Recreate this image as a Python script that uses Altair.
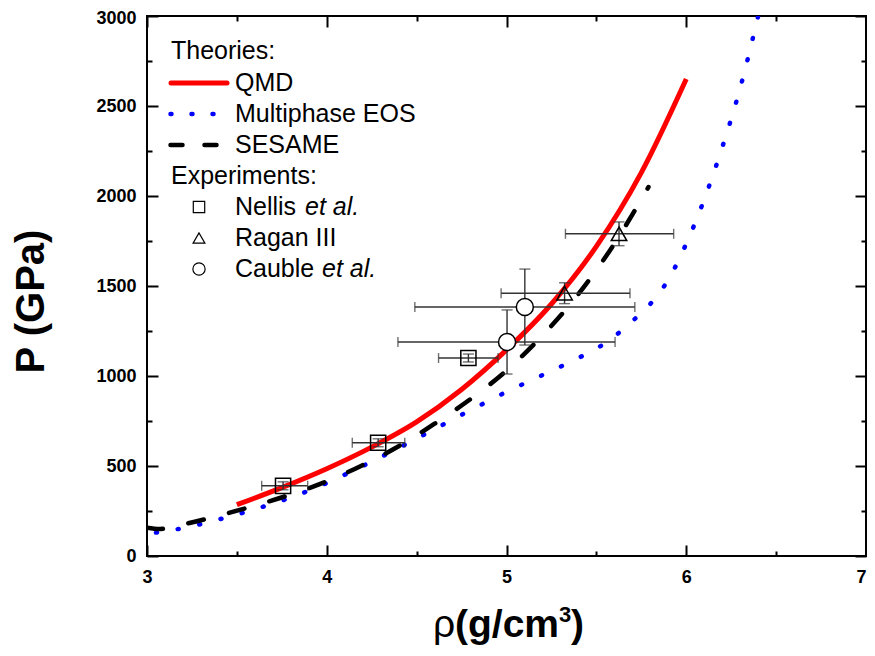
import altair as alt
import pandas as pd

# ---------------- data ----------------
# Theories
qmd_rho = [3.5, 3.75, 4.0, 4.25, 4.5, 4.75, 5.0, 5.25, 5.5, 5.75, 6.0]
qmd_p = [285, 380, 485, 605, 745, 925, 1145, 1400, 1720, 2130, 2650]

eos_rho = [3.05, 3.2, 3.4, 3.6, 3.8, 4.0, 4.2, 4.4, 4.6, 4.8, 5.0, 5.2, 5.4,
           5.5, 5.6, 5.7, 5.8, 5.9, 6.0, 6.1, 6.2, 6.3, 6.4]
eos_p = [130, 155, 203, 260, 325, 405, 500, 600, 705, 810, 912, 1005, 1100,
         1152, 1220, 1305, 1400, 1535, 1735, 1981, 2270, 2600, 3000]

ses_rho = [3.0, 3.07, 3.2, 3.4, 3.6, 3.8, 4.0, 4.2, 4.4, 4.6, 4.8, 5.0, 5.2,
           5.4, 5.6, 5.79]
ses_p = [157, 150, 175, 225, 280, 342, 415, 505, 610, 735, 872, 1030, 1225,
         1455, 1735, 2050]

# Experiments
nellis_rho = [3.757, 4.286, 4.788]
nellis_p = [390, 629, 1100]
nellis_xlo = [3.638, 4.142, 4.622]
nellis_xhi = [3.894, 4.434, 4.953]
nellis_perr = [22, 22, 22]

ragan_rho = [5.323, 5.626]
ragan_p = [1460, 1790]
ragan_xlo = [4.97, 5.328]
ragan_xhi = [5.687, 5.93]
ragan_perr = [58, 66]

cauble_rho = [5.102, 5.003]
cauble_p = [1383, 1189]
cauble_xlo = [4.49, 4.396]
cauble_xhi = [5.714, 5.604]
cauble_perr = [211, 178]

# Axis ticks
x_major = [3, 4, 5, 6, 7]
x_minor = [3.5, 4.5, 5.5, 6.5]
y_major = [0, 500, 1000, 1500, 2000, 2500, 3000]
y_minor = [250, 750, 1250, 1750, 2250, 2750]

# ---------------- build tables ----------------
qmd_df = pd.DataFrame({"rho": qmd_rho, "p": qmd_p})
eos_df = pd.DataFrame({"rho": eos_rho, "p": eos_p})
ses_df = pd.DataFrame({"rho": ses_rho, "p": ses_p})


def exp_table(name, rho, p, xlo, xhi, perr):
    return pd.DataFrame({
        "set": name, "rho": rho, "p": p, "xlo": xlo, "xhi": xhi,
        "plo": [a - b for a, b in zip(p, perr)],
        "phi": [a + b for a, b in zip(p, perr)],
    })


nellis_df = exp_table("Nellis", nellis_rho, nellis_p, nellis_xlo, nellis_xhi, nellis_perr)
ragan_df = exp_table("Ragan", ragan_rho, ragan_p, ragan_xlo, ragan_xhi, ragan_perr)
cauble_df = exp_table("Cauble", cauble_rho, cauble_p, cauble_xlo, cauble_xhi, cauble_perr)
exp_df = pd.concat([nellis_df, ragan_df, cauble_df], ignore_index=True)

FONT = "Liberation Sans"
xs = alt.Scale(domain=[3, 7], nice=False, zero=False)
ys = alt.Scale(domain=[0, 3000], nice=False, zero=False)

common = dict(domain=False, grid=False, tickColor="black", tickWidth=2,
              labelFlush=False)

ax_bottom_major = alt.Axis(
    orient="bottom", values=x_major, tickSize=11, offset=-11, format="d",
    labelFont=FONT, labelFontSize=18, labelFontWeight="bold",
    labelColor="black", labelPadding=12,
    labelAlign=alt.ConditionalAxisLabelAlign(
        condition={"test": "datum.value === 7", "value": "right"},
        value="center"),
    **common)
ax_bottom_minor = alt.Axis(orient="bottom", values=x_minor, tickSize=5,
                           offset=-5, labels=False, **common)
ax_top_major = alt.Axis(orient="top", values=x_major, tickSize=11, offset=-11,
                        labels=False, **common)
ax_top_minor = alt.Axis(orient="top", values=x_minor, tickSize=5, offset=-5,
                        labels=False, **common)

ax_left_major = alt.Axis(
    orient="left", values=y_major, tickSize=11, offset=-11, format="d",
    labelFont=FONT, labelFontSize=18, labelFontWeight="bold",
    labelColor="black", labelPadding=11,
    labelOffset=alt.ConditionalAxisNumber(
        condition={"test": "datum.value === 3000", "value": 2}, value=0),
    titleFont=FONT, titleFontSize=40,
    titleFontWeight="bold", titleColor="black", titleX=-127, titleY=285,
    titleBaseline="middle", titleAngle=270, **common)
ax_left_minor = alt.Axis(orient="left", values=y_minor, tickSize=5, offset=-5,
                         labels=False, **common)
ax_right_major = alt.Axis(orient="right", values=y_major, tickSize=11,
                          offset=-11, labels=False, **common)
ax_right_minor = alt.Axis(orient="right", values=y_minor, tickSize=5,
                          offset=-5, labels=False, **common)

# ---------------- theory curves ----------------
qmd = alt.Chart(qmd_df).mark_line(
    color="#ff0000", strokeWidth=5, interpolate="monotone", clip=True
).encode(
    x=alt.X("rho:Q", scale=xs, axis=ax_bottom_major, title=None),
    y=alt.Y("p:Q", scale=ys, axis=ax_left_major, title="P (GPa)"),
)

eos = alt.Chart(eos_df).mark_line(
    color="#0000ff", strokeWidth=4.5, strokeDash=[1, 21], strokeCap="round",
    interpolate="monotone", clip=True
).encode(
    x=alt.X("rho:Q", scale=xs, axis=ax_bottom_minor, title=None),
    y=alt.Y("p:Q", scale=ys, axis=ax_left_minor, title=None),
)

ses = alt.Chart(ses_df).mark_line(
    color="black", strokeWidth=4.5, strokeDash=[16, 26], strokeCap="round",
    interpolate="monotone", clip=True
).encode(
    x=alt.X("rho:Q", scale=xs, axis=ax_top_major, title=None),
    y=alt.Y("p:Q", scale=ys, axis=ax_right_major, title=None),
)

# ---------------- error bars ----------------
BAR = "#333333"
hbar = alt.Chart(exp_df).mark_rule(color=BAR, strokeWidth=1.4).encode(
    x=alt.X("xlo:Q", scale=xs, axis=ax_top_minor, title=None),
    x2="xhi:Q",
    y=alt.Y("p:Q", scale=ys, axis=ax_right_minor, title=None),
)
hcap_lo = alt.Chart(exp_df).mark_tick(color=BAR, orient="vertical", size=10,
                                      thickness=1.4).encode(
    x=alt.X("xlo:Q", scale=xs, axis=None), y=alt.Y("p:Q", scale=ys, axis=None))
hcap_hi = alt.Chart(exp_df).mark_tick(color=BAR, orient="vertical", size=10,
                                      thickness=1.4).encode(
    x=alt.X("xhi:Q", scale=xs, axis=None), y=alt.Y("p:Q", scale=ys, axis=None))
vbar = alt.Chart(exp_df).mark_rule(color=BAR, strokeWidth=1.4).encode(
    x=alt.X("rho:Q", scale=xs, axis=None),
    y=alt.Y("plo:Q", scale=ys, axis=None), y2="phi:Q")
vcap_lo = alt.Chart(exp_df).mark_tick(color=BAR, orient="horizontal", size=11,
                                      thickness=1.4).encode(
    x=alt.X("rho:Q", scale=xs, axis=None), y=alt.Y("plo:Q", scale=ys, axis=None))
vcap_hi = alt.Chart(exp_df).mark_tick(color=BAR, orient="horizontal", size=11,
                                      thickness=1.4).encode(
    x=alt.X("rho:Q", scale=xs, axis=None), y=alt.Y("phi:Q", scale=ys, axis=None))

# ---------------- markers ----------------
def markers(df, shape, size, fill):
    kw = dict(shape=shape, size=size, stroke="black", strokeWidth=1.5,
              opacity=1)
    if fill:
        kw.update(filled=True, fill="white", fillOpacity=1)
    else:
        kw.update(filled=False)
    return alt.Chart(df).mark_point(**kw).encode(
        x=alt.X("rho:Q", scale=xs, axis=None),
        y=alt.Y("p:Q", scale=ys, axis=None))


m_nellis = markers(nellis_df, "square", 230, False)
m_ragan = markers(ragan_df, "triangle-up", 240, False)
m_cauble = markers(cauble_df, "circle", 290, True)

# ---------------- legend and x-axis title (text) ----------------
one = pd.DataFrame({"k": [0]})
LFS = 25


def ltext(txt, x, y, italic=False, size=LFS, weight="normal",
          baseline="middle"):
    return alt.Chart(one).mark_text(
        align="left", baseline=baseline, font=FONT, fontSize=size,
        fontWeight=weight,
        fontStyle="italic" if italic else "normal", color="black"
    ).encode(x=alt.value(x), y=alt.value(y), text=alt.value(txt))


def lrule(x1, x2, y, color, width, dash=None):
    kw = dict(color=color, strokeWidth=width, strokeCap="round")
    if dash:
        kw["strokeDash"] = dash
    return alt.Chart(one).mark_rule(**kw).encode(
        x=alt.value(x1), x2=alt.value(x2), y=alt.value(y))


def lmark(shape, x, y, size):
    return alt.Chart(one).mark_point(
        shape=shape, size=size, filled=False, stroke="black", strokeWidth=1.2,
        opacity=1
    ).encode(x=alt.value(x), y=alt.value(y))


legend = [
    ltext("Theories:", 24, 35),
    lrule(24, 80, 67, "#ff0000", 5),
    ltext("QMD", 88, 67),
    lrule(23.5, 70, 98, "#0000ff", 4.5, [1, 20]),
    ltext("Multiphase EOS", 88, 98),
    lrule(23.5, 72, 129, "black", 4.5, [12, 22]),
    ltext("SESAME", 88, 129),
    ltext("Experiments:", 24, 160),
    lmark("square", 52, 191, 130),
    ltext("Nellis", 88, 191),
    ltext("et al.", 158, 191, italic=True),
    lmark("triangle-up", 52, 222, 140),
    ltext("Ragan III", 88, 222),
    lmark("circle", 52, 253, 150),
    ltext("Cauble", 88, 253),
    ltext("et al.", 175, 253, italic=True),
]

TB = 621  # x-title baseline, relative to the plot top
x_title = [
    ltext("ρ", 286, TB, size=39, baseline="alphabetic"),
    ltext("(g/cm", 308, TB, size=39, weight="bold", baseline="alphabetic"),
    ltext("3", 412, TB - 15, size=22, weight="bold", baseline="alphabetic"),
    ltext(")", 424, TB, size=39, weight="bold", baseline="alphabetic"),
]

chart = alt.layer(
    qmd, eos, ses, hbar, hcap_lo, hcap_hi, vbar, vcap_lo, vcap_hi,
    m_nellis, m_ragan, m_cauble, *legend, *x_title
).resolve_axis(
    x="independent", y="independent"
).properties(
    width=719, height=540,
    autosize=alt.AutoSizeParams(type="none"),
    padding={"left": 139, "top": 8, "right": 1, "bottom": 92},
).configure(
    font=FONT
).configure_view(
    stroke="black", strokeWidth=2
)

chart.save("out.html", embed_options={"renderer": "svg", "actions": False})
